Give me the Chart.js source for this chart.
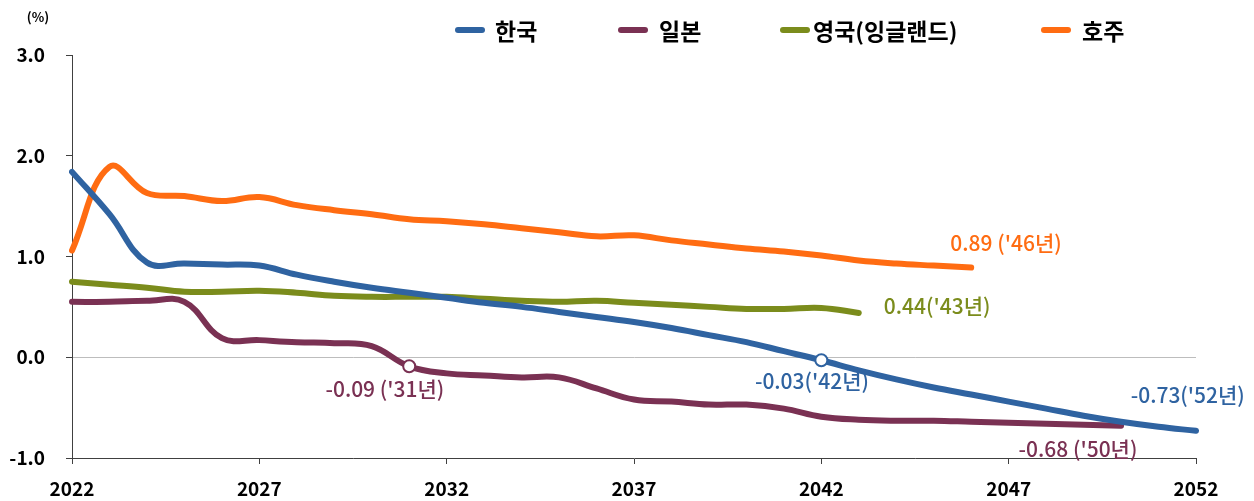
<!DOCTYPE html>
<html>
<head>
<meta charset="utf-8">
<script src="https://cdn.jsdelivr.net/npm/chart.js@4.4.1/dist/chart.umd.min.js"></script>
<style>
  html, body { margin: 0; padding: 0; background: #ffffff; }
  #wrap { width: 1254px; height: 501px; position: relative; }
</style>
</head>
<body>
<div id="wrap"><canvas id="c" width="1254" height="501"></canvas></div>
<script>
// ---- data ----
const years = [2022,2023,2024,2025,2026,2027,2028,2029,2030,2031,2032,2033,2034,2035,2036,2037,2038,2039,2040,2041,2042,2043,2044,2045,2046,2047,2048,2049,2050,2051,2052];
const xTickLabels = ['2022','2027','2032','2037','2042','2047','2052'];
const yTickValues = [-1, 0, 1, 2, 3];

const seriesNames = ['한국', '일본', '영국(잉글랜드)', '호주'];
const korea = [1.84,1.42,0.94,0.93,0.92,0.91,0.82,0.75,0.69,0.64,0.59,0.54,0.50,0.45,0.40,0.35,0.29,0.22,0.15,0.06,-0.03,-0.13,-0.22,-0.30,-0.37,-0.44,-0.51,-0.58,-0.64,-0.69,-0.73];
const japan = [0.55,0.55,0.56,0.55,0.19,0.17,0.15,0.14,0.11,-0.09,-0.16,-0.18,-0.20,-0.20,-0.31,-0.42,-0.44,-0.47,-0.47,-0.51,-0.59,-0.62,-0.63,-0.63,-0.64,-0.65,-0.66,-0.67,-0.68];
const uk = [0.75,0.72,0.69,0.65,0.65,0.66,0.64,0.61,0.60,0.60,0.60,0.58,0.56,0.55,0.56,0.54,0.52,0.50,0.48,0.48,0.49,0.44];
const australia = [1.06,1.89,1.63,1.60,1.55,1.59,1.51,1.46,1.42,1.37,1.35,1.32,1.28,1.24,1.20,1.21,1.16,1.12,1.08,1.05,1.01,0.96,0.93,0.91,0.89];

// marked points (year of the hollow circle), per series
const koreaMarkerYear = 2042;
const japanMarkerYear = 2031;

// value labels: text, series index, anchor (year, value)
const labelTexts  = ["-0.09 ('31년)", "0.89 ('46년)", "0.44('43년)", "-0.03('42년)", "-0.73('52년)", "-0.68 ('50년)"];
const labelSeries = [1, 3, 2, 0, 0, 1];
const labelYears  = [2030.35, 2046.93, 2045.09, 2041.75, 2051.78, 2048.85];
const labelValues = [-0.318, 1.13, 0.506, -0.238, -0.377, -0.914];

// ---- styling ----
const colors = ['#2f63a1', '#7a3153', '#7b8c1c', '#ff6c12'];
const FONT = '"Noto Sans CJK KR", "Noto Sans", sans-serif';

function ds(i, data, markerYear) {
  const mIdx = markerYear ? years.indexOf(markerYear) : -1;
  return {
    label: seriesNames[i],
    data: data,
    borderColor: colors[i],
    backgroundColor: colors[i],
    borderWidth: 6,
    borderCapStyle: 'round',
    borderJoinStyle: 'round',
    tension: 0.4,
    fill: false,
    pointRadius: (c) => c.dataIndex === mIdx ? 6 : 0,
    pointHoverRadius: (c) => c.dataIndex === mIdx ? 6 : 0,
    pointBackgroundColor: '#ffffff',
    pointBorderColor: colors[i],
    pointBorderWidth: 2
  };
}

const customLegend = {
  id: 'customLegend',
  afterDraw(chart) {
    const ctx = chart.ctx;
    const swatchX = [458, 621, 783, 1044];
    const textX = [495, 659, 813, 1082];
    const y = 30;
    ctx.save();
    ctx.font = 'bold 23px ' + FONT;
    ctx.textBaseline = 'middle';
    ctx.textAlign = 'left';
    chart.data.datasets.forEach((d, i) => {
      ctx.strokeStyle = d.borderColor;
      ctx.lineWidth = 6;
      ctx.lineCap = 'round';
      ctx.beginPath();
      ctx.moveTo(swatchX[i], y);
      ctx.lineTo(swatchX[i] + 24, y);
      ctx.stroke();
      ctx.fillStyle = '#000000';
      ctx.fillText(d.label, textX[i], y + 1);
    });
    // unit label
    ctx.font = 'bold 13px ' + FONT;
    ctx.textAlign = 'center';
    ctx.fillText('(%)', 38, 17);
    ctx.restore();
  }
};

const valueLabels = {
  id: 'valueLabels',
  afterDatasetsDraw(chart) {
    const ctx = chart.ctx;
    const xs = chart.scales.x, ys = chart.scales.y;
    ctx.save();
    ctx.font = '500 21px ' + FONT;
    ctx.textAlign = 'center';
    ctx.textBaseline = 'middle';
    labelTexts.forEach((t, i) => {
      const px = xs.getPixelForValue(labelYears[i] - years[0]);
      const py = ys.getPixelForValue(labelValues[i]);
      ctx.fillStyle = colors[labelSeries[i]];
      ctx.fillText(t, px, py);
    });
    ctx.restore();
  }
};

new Chart(document.getElementById('c'), {
  type: 'line',
  data: {
    labels: years.map(String),
    datasets: [
      ds(0, korea, koreaMarkerYear),
      ds(1, japan, japanMarkerYear),
      ds(2, uk, null),
      ds(3, australia, null)
    ]
  },
  options: {
    responsive: false,
    animation: false,
    devicePixelRatio: 1,
    layout: { padding: { top: 55, right: 58, bottom: 0, left: 0 } },
    plugins: {
      legend: { display: false },
      tooltip: { enabled: false },
      title: { display: false }
    },
    scales: {
      x: {
        type: 'category',
        offset: false,
        grid: {
          drawOnChartArea: false,
          drawTicks: true,
          tickLength: 6,
          tickColor: (c) => xTickLabels.includes(String(years[c.index])) ? '#404040' : 'rgba(0,0,0,0)'
        },
        border: { display: true, color: '#404040', width: 1 },
        ticks: {
          autoSkip: false,
          maxRotation: 0,
          padding: 13,
          color: '#000000',
          font: { family: FONT, size: 19, weight: 'bold' },
          callback: (v, idx) => xTickLabels.includes(String(years[idx])) ? String(years[idx]) : ''
        },
        afterFit: (s) => { s.height = 43; }
      },
      y: {
        min: -1,
        max: 3,
        afterBuildTicks: (s) => { s.ticks = yTickValues.map(v => ({ value: v })); },
        grid: {
          drawOnChartArea: true,
          tickLength: 6,
          color: (c) => (c.tick && c.tick.value === 0) ? '#bdbdbd' : 'rgba(0,0,0,0)',
          tickColor: '#404040'
        },
        border: { display: true, color: '#404040', width: 1 },
        ticks: {
          padding: 21,
          color: '#000000',
          font: { family: FONT, size: 19, weight: 'bold' },
          callback: (v) => Number(v).toFixed(1)
        },
        afterFit: (s) => { s.width = 72; }
      }
    }
  },
  plugins: [customLegend, valueLabels]
});
</script>
</body>
</html>
